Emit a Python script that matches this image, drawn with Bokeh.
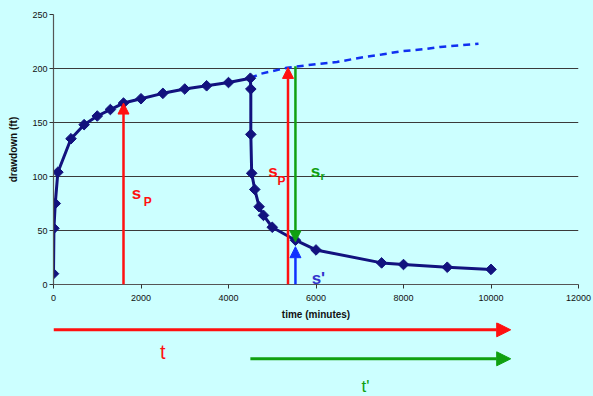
from bokeh.plotting import figure
from bokeh.models import Range1d, FixedTicker, Arrow, NormalHead
from bokeh.layouts import column
from bokeh.core.properties import value
from bokeh.embed import file_html
from bokeh.resources import INLINE

# ---- data ----
time_min = [0, 10, 40, 100, 400, 700, 1000, 1300, 1600, 2000, 2500, 3000, 3500, 4000, 4500,
            4510, 4510, 4530, 4600, 4700, 4800, 5000, 5530, 6000, 7500, 8000, 9000, 10000]
drawdown_ft = [10, 52, 75, 104, 135, 148, 156, 162, 168, 172, 177, 181, 184, 187, 191,
               181, 139, 103, 88, 72, 64, 53, 41, 32, 20, 18.5, 16, 14]

ext_time = [4500, 4724, 5000, 5334, 5500, 6000, 6478, 7010, 7500, 7963, 8500, 8839, 9300, 9714]
ext_drawdown = [191, 195, 197.5, 200.7, 201.5, 204, 206, 210, 213, 216, 218, 220, 221.5, 223]

sp1_time, sp1_value = 1600, 168
sp2_time, sp2_value = 5360, 201
sprime_time, sprime_value = 5530, 35
sr_top, sr_bottom = 202, 39.5

t_start, tprime_start, t_end = 0, 4500, 10450

x_ticks = [0, 2000, 4000, 6000, 8000, 10000, 12000]
y_ticks = [0, 50, 100, 150, 200, 250]

BG = "#ccffff"
NAVY = "#12127e"
FONT = "Liberation Sans"

p = figure(width=593, height=322, output_backend="svg", toolbar_location=None,
           x_range=Range1d(0, 12000), y_range=Range1d(0, 250),
           min_border_left=53, min_border_right=15, min_border_top=14, min_border_bottom=38,
           background_fill_color=BG, border_fill_color=BG, outline_line_color=None)

p.xgrid.grid_line_color = None
p.ygrid.grid_line_color = "#3a3a3a"
p.ygrid.grid_line_width = 1.2
p.xaxis.ticker = FixedTicker(ticks=x_ticks)
p.yaxis.ticker = FixedTicker(ticks=y_ticks)
for ax in (p.xaxis, p.yaxis):
    ax.axis_line_color = "#555555"
    ax.axis_line_width = 1.2
    ax.major_tick_line_color = "#333333"
    ax.major_tick_in = 0
    ax.major_tick_out = 4
    ax.minor_tick_line_color = None
    ax.major_label_text_font = FONT
    ax.major_label_text_font_size = "9px"
    ax.major_label_text_color = "#111111"
    ax.axis_label_text_font = FONT
    ax.axis_label_text_font_size = "10px"
    ax.axis_label_text_font_style = "bold"
    ax.axis_label_text_color = "#111111"
p.xaxis.major_label_standoff = 6
p.yaxis.major_label_standoff = 2
p.xaxis.axis_label = "time (minutes)"
p.yaxis.axis_label = "drawdown (ft)"
p.xaxis.axis_label_standoff = 5
p.yaxis.axis_label_standoff = 10

# extrapolated pumping curve
p.line(ext_time, ext_drawdown, line_color="#1030f0", line_width=2.5, line_dash="7 5")

# measured curve
p.line(time_min, drawdown_ft, line_color=NAVY, line_width=3)
p.scatter(time_min, drawdown_ft, marker="square", angle=0.785398, size=7.5,
          fill_color=NAVY, line_color=NAVY)

def varrow(x, y0, y1, color, size=11):
    p.add_layout(Arrow(end=NormalHead(size=size, fill_color=color, line_color=color, line_width=1),
                       x_start=x, y_start=y0, x_end=x, y_end=y1,
                       line_color=color, line_width=2.5))

varrow(sp1_time, 0, sp1_value, "#ff1010")
varrow(sp2_time, 0, sp2_value, "#ff1010")
varrow(sprime_time, sr_top, sr_bottom, "#10a010")
varrow(sprime_time, 0, sprime_value, "#1030ff")

def label(x, y, txt, color, size):
    p.text(x=[x], y=[y], text=[txt], text_color=color, text_font=value(FONT),
           text_font_style="bold", text_font_size=size, text_align="left",
           text_baseline="alphabetic")

label(1790, 84, "s", "#ff1010", "17px")
label(2060, 76, "P", "#ff1010", "12px")
label(4910, 105, "s", "#ff1010", "17px")
label(5120, 96, "P", "#ff1010", "12px")
label(5880, 105, "s", "#10a010", "17px")
label(6100, 100.5, "r", "#10a010", "11px")
label(5900, 6, "s'", "#3333cc", "17px")

# time arrows below
p2 = figure(width=593, height=74, output_backend="svg", toolbar_location=None,
            x_range=p.x_range, y_range=Range1d(74, 0),
            min_border_left=53, min_border_right=15, min_border_top=0, min_border_bottom=0,
            background_fill_color=BG, border_fill_color=BG, outline_line_color=None)
p2.axis.visible = False
p2.grid.visible = False

p2.add_layout(Arrow(end=NormalHead(size=14, fill_color="#ff1010", line_color="#ff1010"),
                    x_start=t_start, y_start=7.3, x_end=t_end, y_end=7.3,
                    line_color="#ff1010", line_width=3))
p2.add_layout(Arrow(end=NormalHead(size=14, fill_color="#10a010", line_color="#10a010"),
                    x_start=tprime_start, y_start=36.3, x_end=t_end, y_end=36.3,
                    line_color="#10a010", line_width=3))
p2.text(x=[2500], y=[29.5], text=["t"], text_color="#ff1010", text_font=value(FONT),
        text_font_size="20px", text_align="center", text_baseline="middle")
p2.text(x=[7130], y=[63.5], text=["t'"], text_color="#10a010", text_font=value(FONT),
        text_font_size="17px", text_align="center", text_baseline="middle")

layout = column(p, p2, spacing=0, styles={"background-color": BG})
open("out.html", "w").write(file_html(layout, INLINE))
